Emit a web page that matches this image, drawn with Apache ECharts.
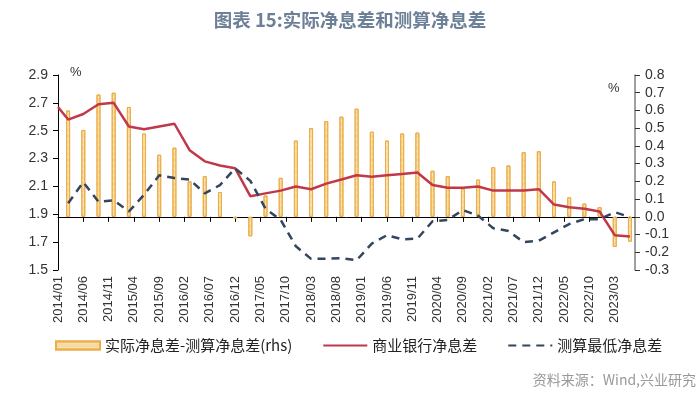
<!DOCTYPE html>
<html>
<head>
<meta charset="utf-8">
<script src="https://cdn.jsdelivr.net/npm/echarts@6/dist/echarts.min.js"></script>
<style>
  html, body { margin: 0; padding: 0; background: #fff; }
  #main { width: 700px; height: 399px; }
</style>
</head>
<body>
<div id="main"></div>
<script>
// 季度（月份标签）
var quarters = [
    '2014/03', '2014/06', '2014/09', '2014/12',
    '2015/03', '2015/06', '2015/09', '2015/12',
    '2016/03', '2016/06', '2016/09', '2016/12',
    '2017/03', '2017/06', '2017/09', '2017/12',
    '2018/03', '2018/06', '2018/09', '2018/12',
    '2019/03', '2019/06', '2019/09', '2019/12',
    '2020/03', '2020/06', '2020/09', '2020/12',
    '2021/03', '2021/06', '2021/09', '2021/12',
    '2022/03', '2022/06', '2022/09', '2022/12',
    '2023/03', '2023/06'
];
// 横轴起止月份
var firstMonth = '2014/01';
var lastMonth = '2023/07';
// 商业银行净息差 (起点在2014/01)
var nimStart = 2.67;
var nimBank = [
    2.58, 2.62, 2.69, 2.70,
    2.53, 2.51, 2.53, 2.55,
    2.36, 2.28, 2.25, 2.23,
    2.03, 2.05, 2.07, 2.10,
    2.08, 2.12, 2.15, 2.18,
    2.17, 2.18, 2.19, 2.20,
    2.11, 2.09, 2.09, 2.10,
    2.07, 2.07, 2.07, 2.08,
    1.97, 1.95, 1.94, 1.92,
    1.75, 1.74
];
// 测算最低净息差
var nimCalc = [
    1.98, 2.13, 1.99, 2.00,
    1.92, 2.04, 2.18, 2.16,
    2.15, 2.05, 2.11, 2.23,
    2.14, 1.94, 1.86, 1.67,
    1.58, 1.58, 1.585, 1.57,
    1.69, 1.75, 1.72, 1.725,
    1.85, 1.86, 1.93, 1.89,
    1.80, 1.78, 1.70, 1.71,
    1.77, 1.83, 1.865, 1.865,
    1.915, 1.88
];
// 实际净息差-测算净息差 (rhs)
var nimSpread = [
    0.60, 0.49, 0.69, 0.70,
    0.62, 0.47, 0.35, 0.39,
    0.20, 0.23, 0.14, -0.01,
    -0.11, 0.12, 0.22, 0.43,
    0.50, 0.54, 0.565, 0.61,
    0.48, 0.43, 0.47, 0.475,
    0.26, 0.23, 0.16, 0.21,
    0.28, 0.29, 0.365, 0.37,
    0.20, 0.11, 0.075, 0.055,
    -0.17, -0.14
];

// 生成逐月类目
function buildMonths(from, to) {
    let months = [];
    let y = +from.split('/')[0], m = +from.split('/')[1];
    let ty = +to.split('/')[0], tm = +to.split('/')[1];
    while (y < ty || (y == ty && m <= tm)) {
        months.push(y + '/' + (m < 10 ? '0' + m : m));
        m++;
        if (m > 12) { m = 1; y++; }
    }
    return months;
}
var months = buildMonths(firstMonth, lastMonth);

// 把季度数据放到月份轴上
function toMonthly(values) {
    let out = months.map(function () { return '-'; });
    for (let i in quarters) {
        out[months.indexOf(quarters[i])] = values[i];
    }
    return out;
}
var bankData = toMonthly(nimBank);
bankData[0] = nimStart;
var calcData = toMonthly(nimCalc);
var spreadData = toMonthly(nimSpread);

var labelFont = 'Liberation Sans, Arial, sans-serif';
var cjkFont = 'Noto Sans CJK SC, sans-serif';

var myChart = echarts.init(document.getElementById('main'));
var option = {
    animation: false,
    title: {
        text: '图表 15:实际净息差和测算净息差',
        left: 'center',
        top: 6,
        textStyle: { fontFamily: cjkFont, fontSize: 18.5, fontWeight: 'bold', color: '#6D8098' }
    },
    grid: { left: 58, right: 65, top: 75, bottom: 129 },
    legend: {
        left: 50,
        top: 333,
        itemWidth: 44,
        itemHeight: 8,
        itemGap: 30,
        textStyle: { fontFamily: cjkFont, fontSize: 15, color: '#222' },
        data: [
            { name: '实际净息差-测算净息差(rhs)', icon: 'rect' },
            { name: '商业银行净息差', itemStyle: { opacity: 0 } },
            { name: '测算最低净息差', itemStyle: { opacity: 0 } }
        ]
    },
    xAxis: {
        type: 'category',
        data: months,
        boundaryGap: false,
        axisLine: { lineStyle: { color: '#000', width: 1 } },
        axisTick: { interval: 4, length: 5, lineStyle: { color: '#000' } },
        axisLabel: {
            interval: 4,
            rotate: 90,
            margin: 6,
            fontFamily: labelFont,
            fontSize: 13,
            color: '#333'
        },
        splitLine: { show: false }
    },
    yAxis: [
        {
            type: 'value',
            min: 1.5,
            max: 2.9,
            interval: 0.2,
            axisLine: { show: true, lineStyle: { color: '#000' } },
            axisTick: { show: true, length: 5, lineStyle: { color: '#000' } },
            axisLabel: {
                margin: 10,
                fontFamily: labelFont,
                fontSize: 14,
                color: '#333',
                formatter: function (v) { return v.toFixed(1); }
            },
            splitLine: { show: false }
        },
        {
            type: 'value',
            min: -0.3,
            max: 0.8,
            interval: 0.1,
            position: 'right',
            axisLine: { show: true, lineStyle: { color: '#808080', width: 1.5 } },
            axisTick: { show: true, length: 5, lineStyle: { color: '#333' } },
            axisLabel: {
                margin: 10,
                fontFamily: labelFont,
                fontSize: 14,
                color: '#333',
                formatter: function (v) { return v.toFixed(1); }
            },
            splitLine: { show: false }
        }
    ],
    graphic: [
        { type: 'text', left: 70, top: 66, style: { text: '%', fontFamily: labelFont, fontSize: 13, fill: '#333' } },
        { type: 'text', left: 608, top: 82, style: { text: '%', fontFamily: labelFont, fontSize: 13, fill: '#333' } },
        { type: 'text', right: 4, top: 373, style: { text: '资料来源：Wind,兴业研究', fontFamily: cjkFont, fontSize: 14, fill: '#999' } }
    ],
    series: [
        {
            name: '实际净息差-测算净息差(rhs)',
            type: 'bar',
            yAxisIndex: 1,
            barWidth: 4,
            data: spreadData,
            itemStyle: {
                color: '#F8DBA2',
                borderColor: '#EBAE48',
                borderWidth: 1,
                decal: {
                    symbol: 'rect',
                    symbolSize: 0.6,
                    dashArrayX: [1, 0],
                    dashArrayY: [2, 4],
                    color: 'rgba(255,255,255,0.7)'
                }
            }
        },
        {
            name: '商业银行净息差',
            type: 'line',
            yAxisIndex: 0,
            data: bankData,
            connectNulls: true,
            symbol: 'none',
            lineStyle: { color: '#C0394B', width: 2.5 },
            itemStyle: { color: '#C0394B' },
            z: 3
        },
        {
            name: '测算最低净息差',
            type: 'line',
            yAxisIndex: 0,
            data: calcData,
            connectNulls: true,
            symbol: 'none',
            lineStyle: { color: '#33455F', width: 2.5, type: [8, 6] },
            itemStyle: { color: '#33455F' },
            z: 4
        }
    ]
};
myChart.setOption(option);
</script>
</body>
</html>
